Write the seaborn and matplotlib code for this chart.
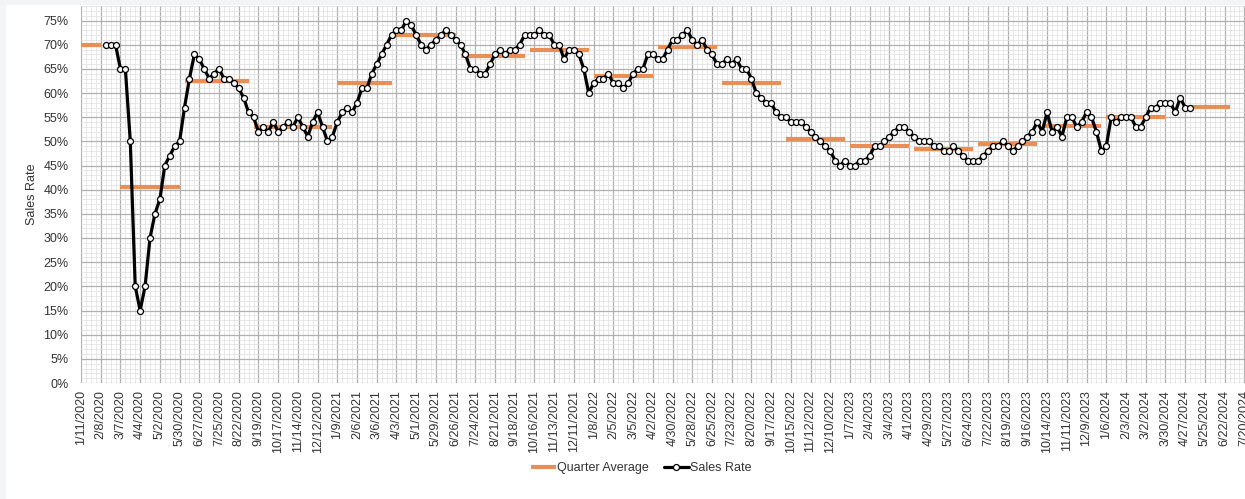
import numpy as np
import pandas as pd
import matplotlib
matplotlib.use('Agg')
import matplotlib.pyplot as plt
import matplotlib.dates as mdates
from matplotlib.patches import Rectangle
from matplotlib.ticker import MultipleLocator, PercentFormatter
import seaborn as sns

# weekly sales rate in %, first point is the week of 2/15/2020
first_week = '2020-02-15'
sales_rate = [
    70, 70, 70, 65, 65, 50, 20, 15, 20, 30, 35, 38, 45, 47, 49, 50, 57, 63, 68, 67,
    65, 63, 64, 65, 63, 63, 62, 61, 59, 56, 55, 52, 53, 52, 54, 52, 53, 54, 53, 55,
    53, 51, 54, 56,
    53, 50, 51, 54, 56, 57, 56, 58, 61, 61, 64, 66, 68, 70, 72, 73, 73, 75, 74, 72,
    70, 69, 70, 71, 72, 73, 72, 71, 70, 68, 65, 65, 64, 64, 66, 68, 69, 68, 69, 69,
    70, 72, 72, 72, 73, 72, 72, 70, 70, 67, 69, 69, 68, 65, 60, 62, 63, 63, 64, 62,
    62,
    61, 62, 64, 65, 65, 68, 68, 67, 67, 69, 71, 71, 72, 73, 71, 70, 71, 69, 68, 66,
    66, 67, 66, 67, 65, 65, 63, 60, 59, 58, 58, 56, 55, 55, 54, 54, 54, 53, 52, 51,
    50, 49, 48, 46, 45, 46, 45, 45, 46, 46, 47, 49, 49, 50, 51, 52, 53, 53, 52, 51,
    50,
    50, 50, 49, 49, 48, 48, 49, 48, 47, 46, 46, 46, 47, 48, 49, 49, 50, 49, 48, 49,
    50, 51, 52, 54, 52, 56, 52, 53, 51, 55, 55, 53, 54, 56, 55, 52, 48, 49, 55, 54,
    55, 55, 55, 53, 53, 55, 57, 57, 58, 58, 58, 56, 59, 57, 57,
]

# quarter averages in %
quarter_start = ['2020-01-11', '2020-03-07', '2020-06-06', '2020-09-12', '2021-01-09',
                 '2021-04-03', '2021-07-03', '2021-10-09', '2022-01-08', '2022-04-09',
                 '2022-07-09', '2022-10-08', '2023-01-07', '2023-04-08', '2023-07-08',
                 '2023-10-07', '2024-01-06', '2024-05-04']
quarter_end = ['2020-02-08', '2020-05-30', '2020-09-05', '2021-01-02', '2021-03-27',
               '2021-06-26', '2021-10-02', '2022-01-01', '2022-04-02', '2022-07-02',
               '2022-10-01', '2022-12-31', '2023-04-01', '2023-07-01', '2023-09-30',
               '2023-12-30', '2024-03-30', '2024-06-29']
quarter_avg = [70.0, 40.5, 62.4, 53.0, 62.0, 72.0, 67.6, 69.0, 63.6, 69.5,
               62.0, 50.5, 49.0, 48.5, 49.4, 53.1, 55.0, 57.2]

# x axis: labels every 4 weeks, grid every week
axis_start = '2020-01-11'
axis_end = '2024-07-20'

sales = pd.DataFrame({
    'Week': pd.date_range(first_week, periods=len(sales_rate), freq='7D'),
    'Sales Rate': np.array(sales_rate) / 100,
})
quarters = pd.DataFrame({
    'q': list(range(len(quarter_avg))) * 2,
    'Week': pd.to_datetime(quarter_start + quarter_end),
    'Sales Rate': (np.array(quarter_avg * 2)) / 100,
})

sns.set_style('white')
plt.rcParams['font.family'] = ['Liberation Sans', 'DejaVu Sans']

fig = plt.figure(figsize=(12.45, 4.99), dpi=100)
fig.patch.set_facecolor('#f3f4f5')
fig.patches.append(Rectangle((6 / 1245, 0), 1, 1 - 5 / 499, transform=fig.transFigure,
                             facecolor='white', edgecolor='none', zorder=-10))
ax = fig.add_axes([81 / 1245, 1 - 383 / 499, 1 - 81 / 1245, 377 / 499])

sns.lineplot(data=quarters, x='Week', y='Sales Rate', units='q', estimator=None,
             color='#E98F55', lw=3.0, solid_capstyle='butt', label='Quarter Average', ax=ax)
sns.lineplot(data=sales, x='Week', y='Sales Rate', color='black', lw=2.3,
             marker='o', markersize=4.3, markerfacecolor='white', markeredgecolor='black',
             markeredgewidth=0.9, label='Sales Rate', ax=ax)

major = pd.date_range(axis_start, axis_end, freq='28D')
minor = pd.date_range(axis_start, axis_end, freq='7D')
ax.set_xticks(mdates.date2num(major))
ax.set_xticklabels([f'{d.month}/{d.day}/{d.year}' for d in major], rotation=90)
ax.set_xticks(mdates.date2num(minor), minor=True)
ax.set_xlim(pd.Timestamp(axis_start), pd.Timestamp('2024-07-21'))

ax.set_ylim(0, 0.78)
ax.yaxis.set_major_locator(MultipleLocator(0.05))
ax.yaxis.set_minor_locator(MultipleLocator(0.01))
ax.yaxis.set_major_formatter(PercentFormatter(1.0, decimals=0))

ax.grid(which='major', color='#b0b0b0', lw=0.9)
ax.grid(which='minor', color='#dedede', lw=0.5)
ax.set_axisbelow(True)
for s in ax.spines.values():
    s.set_visible(False)
ax.tick_params(which='both', length=0, labelsize=9, colors='#333333')
ax.tick_params(axis='y', pad=9)
ax.tick_params(axis='x', pad=5)

ax.set_xlabel('')
ax.set_ylabel('Sales Rate', fontsize=9, color='#333333', labelpad=4)

handles, labels = ax.get_legend_handles_labels()
uniq = dict(zip(labels, handles))
ax.get_legend().remove()
fig.legend(list(uniq.values()), list(uniq.keys()), loc='center', bbox_to_anchor=(0.515, 0.062),
           ncol=2, frameon=False, fontsize=9, handlelength=2, handletextpad=0.1,
           columnspacing=1.2, labelcolor='#333333')

fig.savefig('out.png', dpi=100)
